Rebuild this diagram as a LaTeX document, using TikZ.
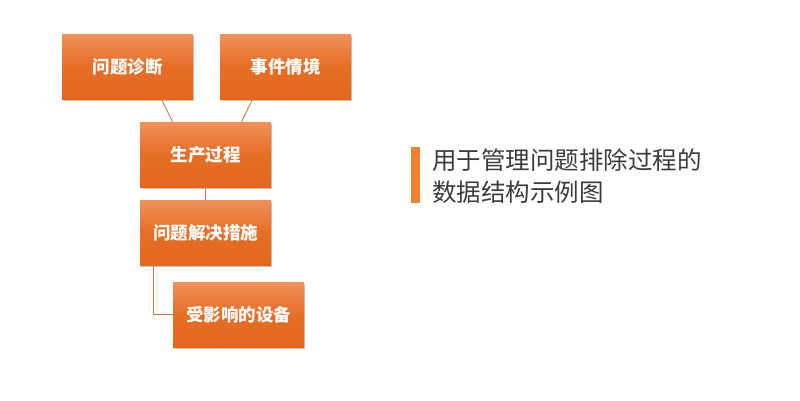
\documentclass[tikz,border=0pt]{standalone}
\usepackage{fontspec}
\setmainfont{Noto Sans CJK SC}
\usepackage{tikz}
\usepackage{xcolor}
\usetikzlibrary{shadows}

\definecolor{boxtop}{HTML}{F0905A}
\definecolor{boxbot}{HTML}{E4681C}
\definecolor{linkbrown}{HTML}{C87A4A}
\definecolor{barorange}{HTML}{F08232}
\definecolor{titlegray}{HTML}{3C3C3C}

\tikzset{
  orangebox/.style={rectangle, minimum width=131pt, minimum height=65pt, inner sep=0pt,
    top color=boxtop, bottom color=boxbot, middle color=boxbot!85!boxtop,
    drop shadow={shadow xshift=1pt, shadow yshift=-2pt, fill=black!45, opacity=0.5},
    text=white, font=\fontsize{17.5}{20}\selectfont\bfseries},
  link/.style={draw=linkbrown, line width=0.9pt}
}

\begin{document}
\begin{tikzpicture}[x=1pt, y=-1pt]
  \useasboundingbox (0,0) rectangle (800,400);

  % Boxes of the structure
  \node[orangebox] (diag) at (127.5,66.5) {问题诊断};
  \node[orangebox] (event) at (285.5,66.5) {事件情境};
  \node[orangebox] (prod) at (205.5,154.5) {生产过程};
  \node[orangebox] (fix) at (205.5,232.5) {问题解决措施};
  \node[orangebox] (dev) at (238.5,314.5) {受影响的设备};

  % Links between them
  \draw[link] ([xshift=34pt]diag.south) -- ([xshift=-33pt]prod.north);
  \draw[link] ([xshift=-33pt]event.south) -- ([xshift=36pt]prod.north);
  \draw[link] (prod.south) -- (fix.north);
  \draw[link] ([xshift=-52pt]fix.south) |- (dev.west);

  % Caption on the right
  \fill[barorange] (411,147) rectangle (420,203);
  \node[anchor=west, align=left, text=titlegray, font=\fontsize{24.5}{32}\selectfont,
        inner sep=0pt] (caption) at (432,176) {用于管理问题排除过程的\\数据结构示例图};
\end{tikzpicture}
\end{document}
